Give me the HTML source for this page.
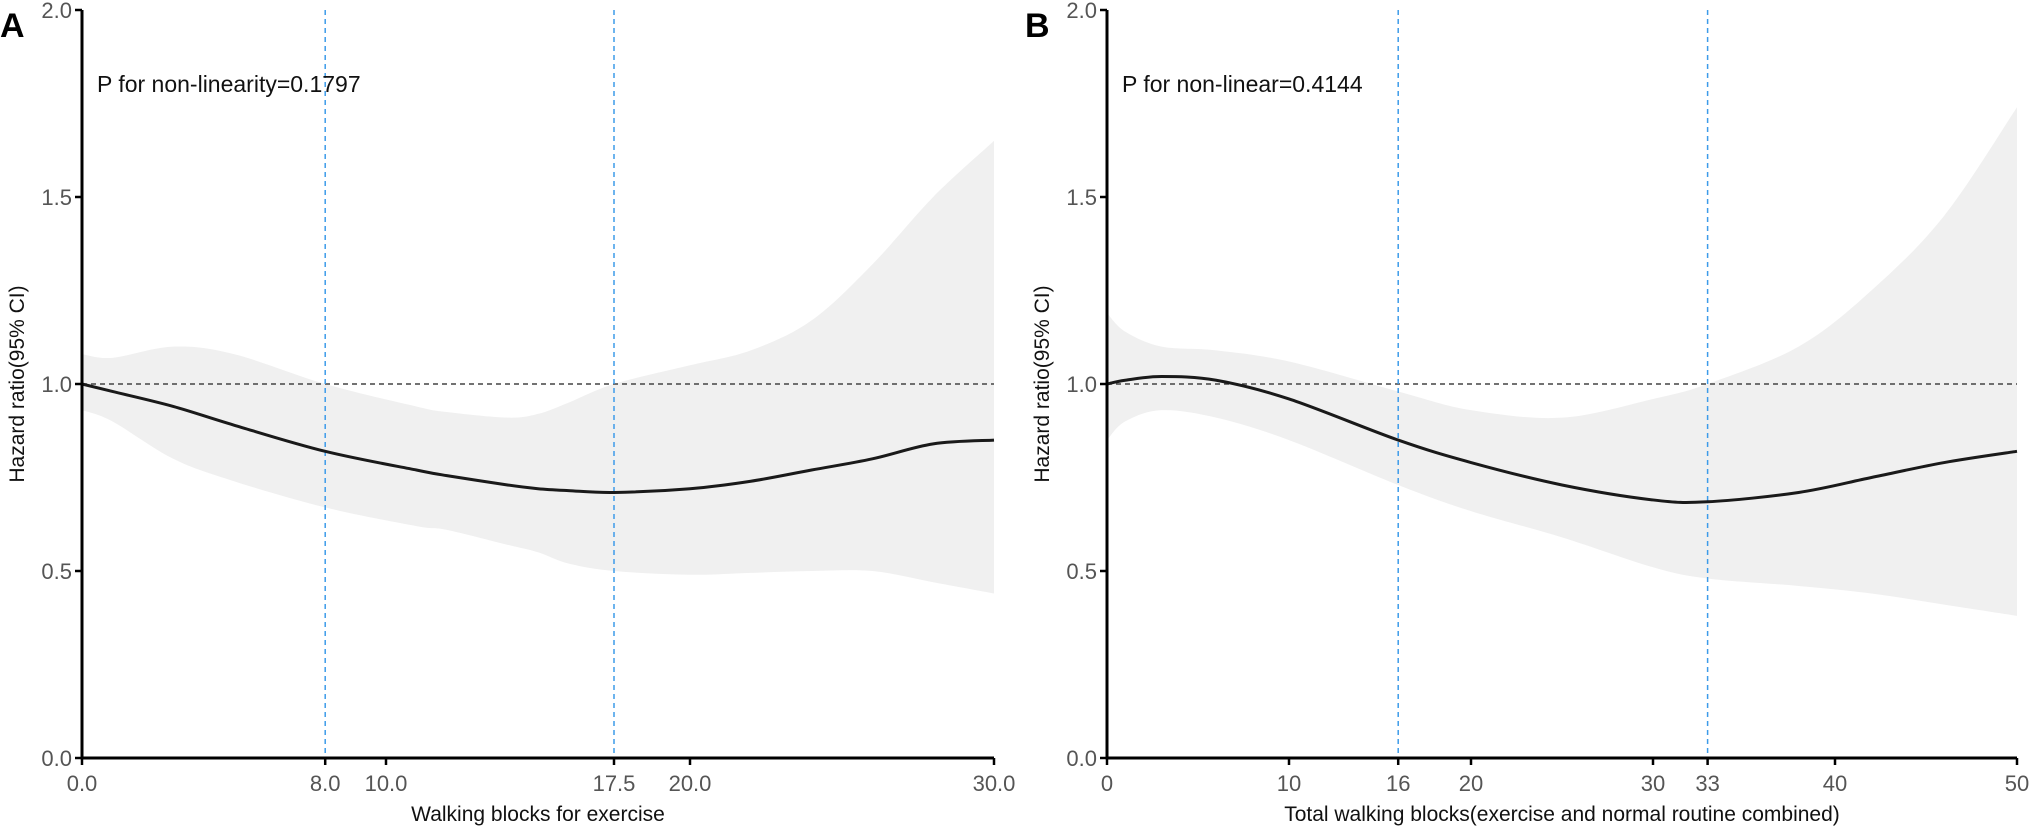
<!DOCTYPE html>
<html><head><meta charset="utf-8"><style>
html,body{margin:0;padding:0;background:#fff}
svg{display:block;font-family:"Liberation Sans",Arial,sans-serif}
</style></head><body>
<svg id="chart" width="2032" height="828" xmlns="http://www.w3.org/2000/svg"></svg>
<script>
const aX=[0,1,3,5,8,11,12,14,15,16,17.5,20,22,24,26,28,30];
const aEst=[1.0,0.98,0.94,0.89,0.82,0.77,0.755,0.73,0.72,0.715,0.71,0.72,0.74,0.77,0.8,0.84,0.85];
const aUp=[1.08,1.07,1.1,1.08,1.0,0.94,0.925,0.91,0.92,0.95,1.0,1.05,1.09,1.17,1.32,1.5,1.65];
const aLo=[0.93,0.9,0.8,0.74,0.67,0.62,0.61,0.57,0.55,0.52,0.5,0.49,0.495,0.5,0.5,0.47,0.44];
const aTicks=[0,8,10,17.5,20,30];
const aTickLabels=["0.0","8.0","10.0","17.5","20.0","30.0"];
const aRef=[8,17.5];
const bX=[0,1,3,6,10,16,20,25,30,33,38,42,46,50];
const bEst=[1.0,1.01,1.02,1.01,0.96,0.85,0.79,0.73,0.69,0.685,0.71,0.75,0.79,0.82];
const bUp=[1.19,1.14,1.1,1.09,1.06,0.98,0.93,0.91,0.96,1.0,1.1,1.25,1.45,1.74];
const bLo=[0.85,0.9,0.93,0.91,0.85,0.73,0.66,0.59,0.51,0.48,0.46,0.44,0.41,0.38];
const bTicks=[0,10,16,20,30,33,40,50];
const bTickLabels=["0","10","16","20","30","33","40","50"];
const bRef=[16,33];
const yTicks=[0,0.5,1,1.5,2];
const yTickLabels=["0.0","0.5","1.0","1.5","2.0"];

const svg=document.getElementById('chart');
const NS='http://www.w3.org/2000/svg';
function mk(tag,attrs,parent){const e=document.createElementNS(NS,tag);for(const k in attrs)e.setAttribute(k,attrs[k]);(parent||svg).appendChild(e);return e;}
function smooth(pts){let d='M'+pts[0][0]+','+pts[0][1];for(let i=0;i<pts.length-1;i++){const p0=pts[i-1]||pts[i],p1=pts[i],p2=pts[i+1],p3=pts[i+2]||p2;
d+=' C'+(p1[0]+(p2[0]-p0[0])/6)+','+(p1[1]+(p2[1]-p0[1])/6)+' '+(p2[0]-(p3[0]-p1[0])/6)+','+(p2[1]-(p3[1]-p1[1])/6)+' '+p2[0]+','+p2[1];}return d;}
function panel(o){
  const g=mk('g',{});
  
  
  const sx=v=>o.x0+(v/o.xmax)*(o.x1-o.x0);
  const sy=v=>758-v*374;
  const up=o.xs.map((v,i)=>[sx(v),sy(o.up[i])]);
  const lo=o.xs.map((v,i)=>[sx(v),sy(o.lo[i])]).reverse();
  const band=mk('path',{d:smooth(up)+' L'+smooth(lo).slice(1)+' Z',fill:'#f0f0f0'},g);
  
  
  const h=mk('line',{x1:o.x0,x2:o.x1,y1:sy(1),y2:sy(1),stroke:'#444','stroke-width':1.5,'stroke-dasharray':'5,4'},g);
  
  
  o.ref.forEach(r=>{const l=mk('line',{x1:sx(r),x2:sx(r),y1:10,y2:758,stroke:'#3d9be9','stroke-width':1.5,'stroke-dasharray':'5,4'},g);
    
    });
  const ln=mk('path',{d:smooth(o.xs.map((v,i)=>[sx(v),sy(o.est[i])])),fill:'none',stroke:'#1a1a1a','stroke-width':3},g);
  
  
  mk('line',{x1:o.x0,x2:o.x0,y1:10,y2:759.5,stroke:'#000','stroke-width':3},g);
  mk('line',{x1:o.x0-1.5,x2:o.x1,y1:758,y2:758,stroke:'#000','stroke-width':3},g);
  yTicks.forEach((v,i)=>{mk('line',{x1:o.x0-7,x2:o.x0,y1:sy(v),y2:sy(v),stroke:'#000','stroke-width':2.5},g);
    const t=mk('text',{x:o.x0-10,y:sy(v)+8,'text-anchor':'end','font-size':22,fill:'#555'},g);t.textContent=yTickLabels[i];
    
    });
  o.ticks.forEach((v,i)=>{mk('line',{x1:sx(v),x2:sx(v),y1:758,y2:765,stroke:'#000','stroke-width':2.5},g);
    const t=mk('text',{x:sx(v),y:791,'text-anchor':'middle','font-size':22,fill:'#555'},g);t.textContent=o.tl[i];
    
    });
  const xt=mk('text',{x:(o.x0+o.x1)/2,y:821,'text-anchor':'middle','font-size':21,fill:'#111'},g);xt.textContent=o.xtitle;
  
  
  const yt=mk('text',{x:0,y:0,'text-anchor':'middle','font-size':21,fill:'#111',transform:'translate('+(o.x0-58)+',384) rotate(-90)'},g);yt.textContent='Hazard ratio(95% CI)';
  
  
  const p=mk('text',{x:o.x0+15,y:92,'font-size':23,fill:'#111'},g);p.textContent=o.ptext;
  
  
  const L=mk('text',{x:o.x0-82,y:37,'font-size':34,'font-weight':'bold',fill:'#000'},g);L.textContent=o.letter;
  
  
}
panel({name:'panel-a',x0:82,x1:994,xmax:30,xs:aX,est:aEst,up:aUp,lo:aLo,ticks:aTicks,tl:aTickLabels,ref:aRef,xtitle:'Walking blocks for exercise',ptext:'P for non-linearity=0.1797',letter:'A'});
panel({name:'panel-b',x0:1107,x1:2017,xmax:50,xs:bX,est:bEst,up:bUp,lo:bLo,ticks:bTicks,tl:bTickLabels,ref:bRef,xtitle:'Total walking blocks(exercise and normal routine combined)',ptext:'P for non-linear=0.4144',letter:'B'});
</script>
</body></html>
